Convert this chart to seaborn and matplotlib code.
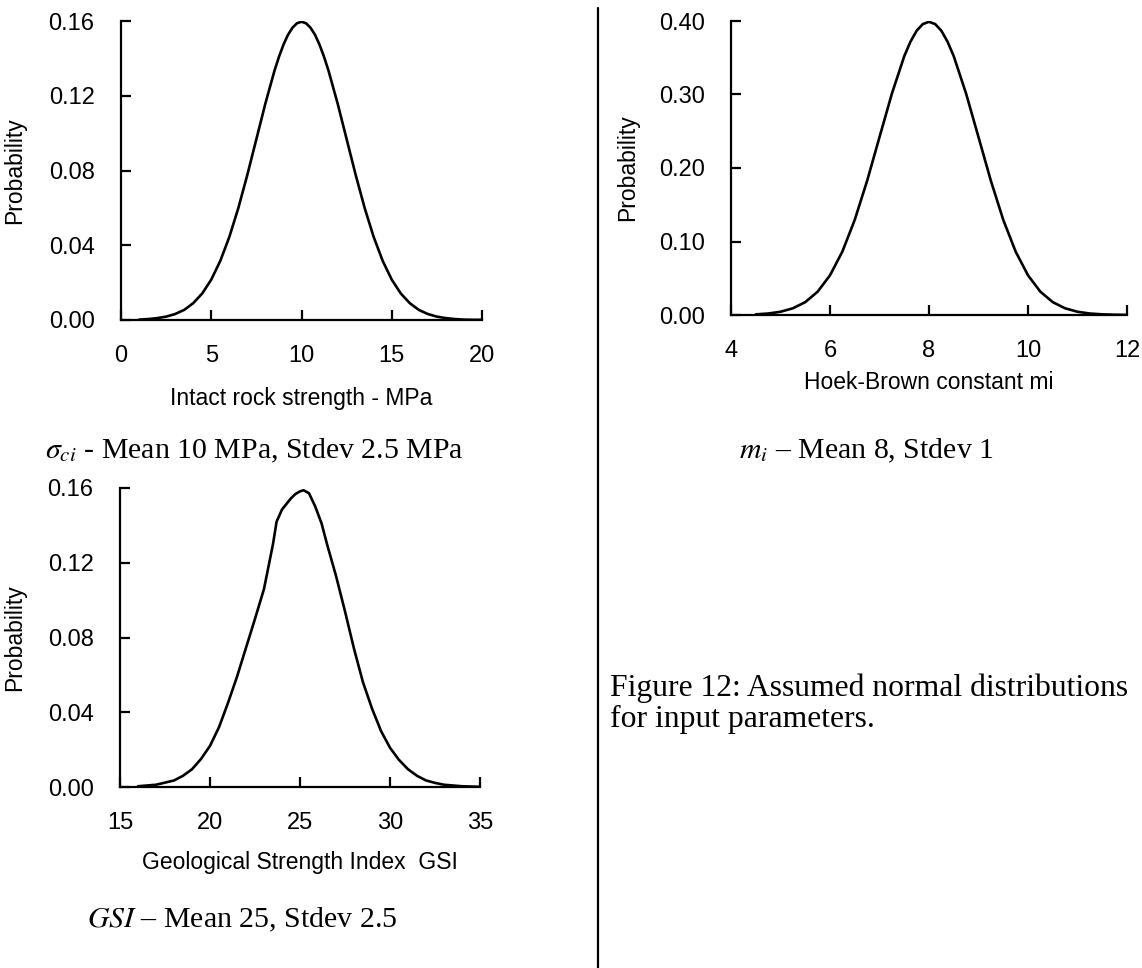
"""Assumed normal distributions for the three input parameters (Figure 12)."""

import matplotlib
matplotlib.use("Agg")
import matplotlib.pyplot as plt
import matplotlib.transforms as mtrans
from matplotlib.lines import Line2D
from matplotlib.ticker import FormatStrFormatter, MultipleLocator
import seaborn as sns

# ---------------------------------------------------------------------------
# Data
# ---------------------------------------------------------------------------

sigci_x = [1.0, 1.5, 2.0, 2.5, 3.0, 3.5, 4.0, 4.5, 5.0, 5.5, 6.0, 6.5, 7.0, 7.5,
           8.0, 8.5, 8.75, 9.0, 9.25, 9.5, 9.75, 10.0, 10.25, 10.5, 10.75, 11.0,
           11.25, 11.5, 12.0, 12.5, 13.0, 13.5, 14.0, 14.5, 15.0, 15.5, 16.0,
           16.5, 17.0, 17.5, 18.0, 18.5, 19.0, 19.5, 20.0]
sigci_p = [0.0002, 0.0005, 0.0010, 0.0018, 0.0032, 0.0054, 0.0090, 0.0142,
           0.0216, 0.0316, 0.0444, 0.0599, 0.0777, 0.0968, 0.1159, 0.1333,
           0.1408, 0.1473, 0.1526, 0.1564, 0.1588, 0.1596, 0.1588, 0.1564,
           0.1526, 0.1473, 0.1408, 0.1333, 0.1159, 0.0968, 0.0777, 0.0599,
           0.0444, 0.0316, 0.0216, 0.0142, 0.0090, 0.0054, 0.0032, 0.0018,
           0.0010, 0.0005, 0.0002, 0.0001, 0.0001]

mi_x = [4.5, 4.75, 5.0, 5.25, 5.5, 5.75, 6.0, 6.25, 6.5, 6.75, 7.0, 7.25, 7.5,
        7.625, 7.75, 7.875, 8.0, 8.125, 8.25, 8.375, 8.5, 8.75, 9.0, 9.25, 9.5,
        9.75, 10.0, 10.25, 10.5, 10.75, 11.0, 11.25, 11.5, 11.75, 12.0]
mi_p = [0.0009, 0.0020, 0.0044, 0.0091, 0.0175, 0.0317, 0.0540, 0.0863,
        0.1295, 0.1826, 0.2420, 0.3011, 0.3521, 0.3718, 0.3867, 0.3958,
        0.3989, 0.3958, 0.3867, 0.3718, 0.3521, 0.3011, 0.2420, 0.1826,
        0.1295, 0.0863, 0.0540, 0.0317, 0.0175, 0.0091, 0.0044, 0.0020,
        0.0009, 0.0004, 0.0001]

gsi_x = [16.0, 17.0, 18.0, 18.5, 19.0, 19.5, 20.0, 20.5, 21.0, 21.5, 22.0,
         22.5, 23.0, 23.5, 23.7, 24.0, 24.5, 24.75, 25.0, 25.2, 25.5, 25.85,
         26.2, 26.5, 27.0, 27.5, 28.0, 28.5, 29.0, 29.5, 30.0, 30.5, 31.0,
         31.5, 32.0, 32.5, 33.0, 34.0, 35.0]
gsi_p = [0.0004, 0.0012, 0.0035, 0.0060, 0.0095, 0.0150, 0.0220, 0.0320,
         0.0450, 0.0590, 0.0745, 0.0900, 0.1060, 0.1300, 0.1420, 0.1485,
         0.1545, 0.1568, 0.1582, 0.1588, 0.1572, 0.1500, 0.1410, 0.1300,
         0.1130, 0.0940, 0.0740, 0.0560, 0.0420, 0.0300, 0.0210, 0.0145,
         0.0095, 0.0060, 0.0035, 0.0022, 0.0012, 0.0004, 0.0001]

# ---------------------------------------------------------------------------
# Figure setup
# ---------------------------------------------------------------------------

W, H, DPI = 1142, 968, 100

sns.set_style("ticks")
plt.rcParams["font.family"] = ["Liberation Sans", "DejaVu Sans"]
plt.rcParams["mathtext.fontset"] = "stix"
plt.rcParams["text.color"] = "black"
plt.rcParams["axes.labelcolor"] = "black"

SERIF = ["Liberation Serif", "DejaVu Serif"]

fig = plt.figure(figsize=(W / DPI, H / DPI), dpi=DPI)


def _rect(left, right, top, bottom):
    """Pixel box -> figure-fraction rect."""
    return [left / W, 1 - bottom / H, (right - left) / W, (bottom - top) / H]


def _panel(box, x, y, xlim, ylim, xstep, ystep, xlabel, xlab_y, ylab_x):
    ax = fig.add_axes(_rect(*box))
    sns.lineplot(x=x, y=y, ax=ax, color="black", linewidth=1.9, sort=False)
    ax.set_xlim(*xlim)
    ax.set_ylim(*ylim)
    ax.xaxis.set_major_locator(MultipleLocator(xstep))
    ax.yaxis.set_major_locator(MultipleLocator(ystep))
    ax.yaxis.set_major_formatter(FormatStrFormatter("%.2f"))
    ax.tick_params(direction="in", length=7, width=1.6, labelsize=17,
                   colors="black")
    ax.tick_params(axis="x", pad=18)
    ax.tick_params(axis="y", pad=19)
    sns.despine(ax=ax)
    for side in ("left", "bottom"):
        ax.spines[side].set_linewidth(1.6)
        ax.spines[side].set_color("black")
    ax.grid(False)
    ax.set_xlabel(xlabel, fontsize=16.5, va="center")
    ax.set_ylabel("Probability", fontsize=16.5, va="center")
    ax.xaxis.set_label_coords(0.5, 1 - xlab_y / H)
    ax.yaxis.set_label_coords(ylab_x / W, 0.5)
    ax.xaxis.label.set_transform(
        mtrans.blended_transform_factory(ax.transAxes, fig.transFigure))
    ax.yaxis.label.set_transform(
        mtrans.blended_transform_factory(fig.transFigure, ax.transAxes))
    return ax


_panel((121, 482, 21, 320), sigci_x, sigci_p, (0, 20), (0, 0.16), 5, 0.04,
       "Intact rock strength - MPa", 398, 15)
_panel((731, 1127, 21, 315), mi_x, mi_p, (4, 12), (0, 0.40), 2, 0.10,
       "Hoek-Brown constant mi", 382, 628)
_panel((120, 480, 488, 787), gsi_x, gsi_p, (15, 35), (0, 0.16), 5, 0.04,
       "Geological Strength Index  GSI", 863, 15)

# captions
fig.text(254 / W, 1 - 451 / H, r"$\sigma_{ci}$ - Mean 10 MPa, Stdev 2.5 MPa",
         ha="center", va="center", fontsize=21.5, family=SERIF)
fig.text(866 / W, 1 - 451 / H, r"$m_i$ – Mean 8, Stdev 1",
         ha="center", va="center", fontsize=21.5, family=SERIF)
fig.text(242 / W, 1 - 920 / H, r"$GSI$ – Mean 25, Stdev 2.5",
         ha="center", va="center", fontsize=21.5, family=SERIF)
fig.text(610 / W, 1 - 704 / H,
         "Figure 12: Assumed normal distributions\nfor input parameters.",
         ha="left", va="center", fontsize=22.8, family=SERIF, linespacing=1.1)

# vertical divider between the two columns
fig.add_artist(Line2D([598 / W, 598 / W], [1 - 8 / H, 0],
                      transform=fig.transFigure, color="black", linewidth=1.6))

fig.savefig("out.png", dpi=DPI)
plt.close(fig)
